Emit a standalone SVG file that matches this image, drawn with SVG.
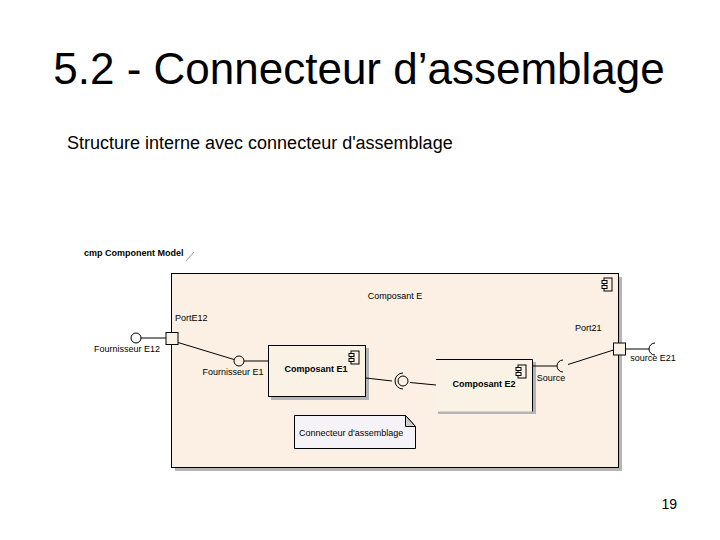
<svg xmlns="http://www.w3.org/2000/svg" width="720" height="540" viewBox="0 0 720 540">
<style>
  text { font-family: "Liberation Sans", Arial, sans-serif; fill: #000; }
  .t { font-size: 9px; }
  .b { font-size: 9px; font-weight: bold; }
  .ln { stroke: #000; stroke-width: 1; fill: none; }
  .shadow { fill: #b4b4b4; }
  .comp { fill: #fbf2e6; stroke: #000; stroke-width: 1; }
  .port { fill: #fbf2e6; stroke: #000; stroke-width: 1; }
</style>
<defs>
  <g id="icon">
    <rect x="2" y="0" width="8" height="13" fill="none" stroke="#000" stroke-width="1"/>
    <rect x="0" y="2.5" width="5" height="3" fill="#fbf2e6" stroke="#000" stroke-width="1"/>
    <rect x="0" y="7.5" width="5" height="3" fill="#fbf2e6" stroke="#000" stroke-width="1"/>
  </g>
</defs>
<rect width="720" height="540" fill="#fff"/>
<text x="359" y="84" font-size="44" text-anchor="middle">5.2 - Connecteur d’assemblage</text>
<text x="67" y="149" font-size="18">Structure interne avec connecteur d'assemblage</text>
<text x="677" y="509" font-size="14" text-anchor="end">19</text>

<g id="frame">
  <text class="b" x="84" y="256">cmp Component Model</text>
  <line x1="186" y1="261" x2="194" y2="252" stroke="#999" stroke-width="1"/>
</g>

<g id="composant-e">
  <rect class="shadow" x="175" y="277" width="447" height="194"/>
  <rect x="171.5" y="273.5" width="447" height="194" fill="#fbf0e3" stroke="#000" stroke-width="1"/>
  <text class="t" x="395" y="299" text-anchor="middle">Composant E</text>
  <use href="#icon" x="602" y="278"/>
</g>

<g id="composant-e1">
  <rect class="shadow" x="271" y="348" width="98" height="52"/>
  <rect class="comp" x="268.5" y="345.5" width="97" height="51"/>
  <text class="b" x="316" y="372" text-anchor="middle">Composant E1</text>
  <use href="#icon" x="349" y="351"/>
</g>

<g id="composant-e2">
  <rect class="shadow" x="438" y="362" width="98" height="52"/>
  <rect x="436" y="359.5" width="96.5" height="52" fill="#fbf2e6"/>
  <polyline class="ln" points="436,359.5 532.5,359.5 532.5,411.5"/>
  <text class="b" x="484" y="387" text-anchor="middle">Composant E2</text>
  <use href="#icon" x="516" y="365"/>
</g>

<g id="note">
  <path d="M294.5,415.5 H405.5 L415.5,426.5 V448.5 H294.5 Z" fill="#f5f3f8" stroke="#000" stroke-width="1"/>
  <path d="M405.5,415.5 L415.5,426.5 H405.5 Z" fill="#cfcfcf" stroke="#000" stroke-width="1"/>
  <text class="t" x="299" y="436">Connecteur d'assemblage</text>
</g>

<g id="port-e12">
  <rect class="port" x="166" y="332.5" width="12" height="12"/>
  <text class="t" x="175" y="321">PortE12</text>
</g>

<g id="port21">
  <rect class="port" x="613.5" y="343" width="12" height="12"/>
  <text class="t" x="575" y="331">Port21</text>
</g>

<g id="fournisseur-e12">
  <circle cx="136" cy="338" r="5" fill="#fff" stroke="#000" stroke-width="1"/>
  <text class="t" x="127" y="352" text-anchor="middle">Fournisseur E12</text>
</g>

<g id="fournisseur-e1">
  <circle cx="239" cy="361" r="5" fill="#fbf0e3" stroke="#000" stroke-width="1"/>
  <text class="t" x="233" y="375" text-anchor="middle">Fournisseur E1</text>
</g>

<g id="source">
  <path class="ln" d="M563,360 A6,6 0 0 0 563,372"/>
  <text class="t" x="551" y="381" text-anchor="middle">Source</text>
</g>

<g id="source-e21">
  <path class="ln" d="M655,343 A6,6 0 0 0 655,355"/>
  <text class="t" x="653" y="361" text-anchor="middle">source E21</text>
</g>

<g id="connectors">
  <line class="ln" x1="141" y1="338" x2="166" y2="338"/>
  <line class="ln" x1="178" y1="342.5" x2="234" y2="359.5"/>
  <line class="ln" x1="244" y1="361" x2="268" y2="361"/>
  <line class="ln" x1="366" y1="378" x2="392" y2="381"/>
  <path class="ln" d="M403,373 A8,8 0 0 0 403,389"/>
  <circle cx="403" cy="381" r="5" fill="#fbf0e3" stroke="#000" stroke-width="1"/>
  <line class="ln" x1="410" y1="382.5" x2="436" y2="385"/>
  <line class="ln" x1="533" y1="366" x2="557" y2="366"/>
  <line class="ln" x1="568" y1="364.5" x2="613.5" y2="350"/>
  <line class="ln" x1="625.5" y1="349" x2="649" y2="349"/>
</g>
</svg>
